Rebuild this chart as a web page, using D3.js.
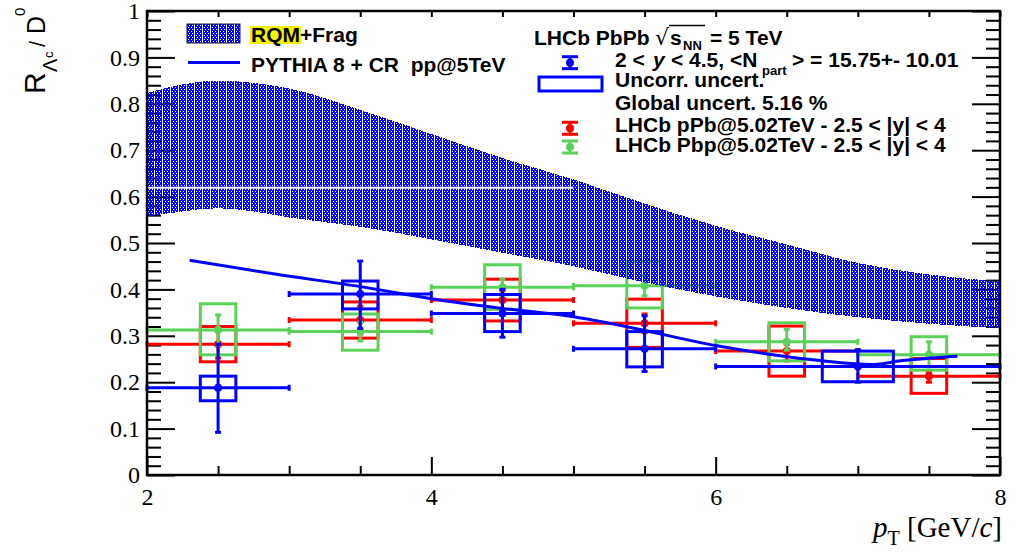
<!DOCTYPE html>
<html><head><meta charset="utf-8">
<script src="https://cdn.jsdelivr.net/npm/d3@7"></script>
<style>
body{margin:0;background:#fff;}
svg text{white-space:pre;}
</style></head>
<body><svg id="c" width="1025" height="553"></svg>
<script>
// ---------- data ----------
const xMajorTicks = [2, 4, 6, 8];
const yMajorTicks = [0, 0.1, 0.2, 0.3, 0.4, 0.5, 0.6, 0.7, 0.8, 0.9, 1];

// RQM + Frag band
const bandX    = [2.0, 2.25, 2.5, 2.75, 3.0, 3.5, 4.0, 4.5, 5.0, 5.5, 6.0, 6.5, 7.0, 7.5, 8.0];
const bandLow  = [0.557, 0.568, 0.575, 0.568, 0.555, 0.535, 0.508, 0.479, 0.450, 0.415, 0.385, 0.360, 0.340, 0.326, 0.316];
const bandHigh = [0.823, 0.842, 0.850, 0.845, 0.833, 0.787, 0.735, 0.683, 0.637, 0.585, 0.537, 0.497, 0.457, 0.432, 0.417];
const bandGapY = 0.619, bandGapX = [2.0, 5.0];

// PYTHIA 8 + CR pp@5TeV
const pythiaX = [2.3, 2.9, 3.5, 4.0, 4.5, 5.0, 5.4, 6.0, 6.4, 6.75, 7.1, 7.3, 7.7];
const pythiaY = [0.463, 0.433, 0.406, 0.380, 0.359, 0.341, 0.318, 0.279, 0.259, 0.246, 0.238, 0.246, 0.256];

// LHCb PbPb
const pbpbX      = [2.5, 3.5, 4.5, 5.5, 7.0];
const pbpbXlo    = [2, 3, 4, 5, 6];
const pbpbXhi    = [3, 4, 5, 6, 8];
const pbpbY      = [0.188, 0.390, 0.348, 0.272, 0.234];
const pbpbStatLo = [0.092, 0.316, 0.297, 0.223, 0.200];
const pbpbStatHi = [0.282, 0.461, 0.400, 0.343, 0.270];
const pbpbSysLo  = [0.160, 0.358, 0.309, 0.233, 0.201];
const pbpbSysHi  = [0.213, 0.418, 0.389, 0.309, 0.267];

// LHCb pPb
const ppbX      = [2.5, 3.5, 4.5, 5.5, 6.5, 7.5];
const ppbXlo    = [2, 3, 4, 5, 6, 7];
const ppbXhi    = [3, 4, 5, 6, 7, 8];
const ppbY      = [0.282, 0.334, 0.377, 0.327, 0.267, 0.213];
const ppbStatLo = [0.252, 0.304, 0.357, 0.307, 0.246, 0.200];
const ppbStatHi = [0.312, 0.364, 0.397, 0.347, 0.282, 0.222];
const ppbSysLo  = [0.244, 0.295, 0.332, 0.275, 0.213, 0.176];
const ppbSysHi  = [0.320, 0.373, 0.422, 0.379, 0.321, 0.251];

// LHCb Pbp
const pbpX      = [2.5, 3.5, 4.5, 5.5, 6.5, 7.5];
const pbpXlo    = [2, 3, 4, 5, 6, 7];
const pbpXhi    = [3, 4, 5, 6, 7, 8];
const pbpY      = [0.3125, 0.309, 0.4045, 0.408, 0.287, 0.259];
const pbpStatLo = [0.280, 0.289, 0.387, 0.386, 0.269, 0.233];
const pbpStatHi = [0.345, 0.329, 0.422, 0.430, 0.314, 0.287];
const pbpSysLo  = [0.259, 0.269, 0.357, 0.360, 0.246, 0.226];
const pbpSysHi  = [0.369, 0.347, 0.453, 0.460, 0.328, 0.298];

// ---------- drawing ----------
const BLUE = "#0000ff", RED = "#ff0000", GREEN = "#5ad25a";
const svg = d3.select("#c");
const L = 147, R = 1000, T = 11, B = 475;
const x = d3.scaleLinear().domain([2, 8]).range([L, R]);
const y = d3.scaleLinear().domain([0, 1]).range([B, T]);
const SANS = "'Liberation Sans', Arial, Helvetica, sans-serif";
const SERIF = "'Liberation Serif', 'Times New Roman', serif";

// pattern
const defs = svg.append("defs");
const pat = defs.append("pattern").attr("id", "hatch").attr("patternUnits", "userSpaceOnUse")
  .attr("x", L).attr("y", 0).attr("width", 8).attr("height", 4);
const bitmap = ["BBBBBBB.", "BB.BB.B.", "BBBBBBB.", "B.BB.BB."];
bitmap.forEach((row, j) => row.split("").forEach((c, i) => {
  if (c === "B") pat.append("rect").attr("x", i).attr("y", j).attr("width", 1).attr("height", 1).attr("fill", BLUE);
}));

// axes
const minorX = d3.range(2, 8.001, 0.5).filter(v => Math.abs(v - Math.round(v / 2) * 2) > 1e-6);
const minorY = d3.range(0, 1.0001, 0.02).map(v => +v.toFixed(2)).filter(v => Math.abs(v * 10 - Math.round(v * 10)) > 1e-6);
const allX = d3.range(2, 8.001, 0.5);

function styleAxis(g) {
  g.select(".domain").remove();
  g.selectAll(".tick line").attr("stroke", "#000").attr("stroke-width", 2);
}
const axG = svg.append("g");
axG.append("g").attr("transform", `translate(0,${B})`)
  .call(d3.axisBottom(x).tickValues(xMajorTicks).tickSize(-18).tickPadding(13).tickFormat(d3.format("d")))
  .call(styleAxis).selectAll("text").attr("font-family", SERIF).attr("font-size", 24).attr("fill", "#000");
axG.append("g").attr("transform", `translate(0,${B})`)
  .call(d3.axisBottom(x).tickValues(minorX).tickSize(-9).tickFormat("")).call(styleAxis);
axG.append("g").attr("transform", `translate(0,${T})`)
  .call(d3.axisTop(x).tickValues(allX).tickSize(-6).tickFormat("")).call(styleAxis);
axG.append("g").attr("transform", `translate(${L},0)`)
  .call(d3.axisLeft(y).tickValues(yMajorTicks).tickSize(-28).tickPadding(7).tickFormat(d => d3.format("")(d)))
  .call(styleAxis).selectAll("text").attr("font-family", SERIF).attr("font-size", 24).attr("fill", "#000");
axG.append("g").attr("transform", `translate(${L},0)`)
  .call(d3.axisLeft(y).tickValues(minorY).tickSize(-14).tickFormat("")).call(styleAxis);
axG.append("g").attr("transform", `translate(${R},0)`)
  .call(d3.axisRight(y).tickValues(yMajorTicks).tickSize(-28).tickFormat("")).call(styleAxis);
axG.append("g").attr("transform", `translate(${R},0)`)
  .call(d3.axisRight(y).tickValues(minorY).tickSize(-14).tickFormat("")).call(styleAxis);

// data series
function series(color, X, Xlo, Xhi, Y, sLo, sHi, sysLo, sysHi) {
  const g = svg.append("g").attr("stroke", color).attr("fill", "none").attr("stroke-width", 3);
  X.forEach((xv, i) => {
    const hw = 0.125 * (Xhi[i] - Xlo[i]);
    g.append("rect").attr("x", x(xv - hw)).attr("y", y(sysHi[i]))
      .attr("width", x(xv + hw) - x(xv - hw)).attr("height", y(sysLo[i]) - y(sysHi[i]));
    g.append("line").attr("x1", x(Xlo[i])).attr("x2", x(Xhi[i])).attr("y1", y(Y[i])).attr("y2", y(Y[i]));
    g.append("line").attr("x1", x(Xlo[i])).attr("x2", x(Xlo[i])).attr("y1", y(Y[i]) - 3).attr("y2", y(Y[i]) + 3);
    g.append("line").attr("x1", x(Xhi[i])).attr("x2", x(Xhi[i])).attr("y1", y(Y[i]) - 3).attr("y2", y(Y[i]) + 3);
    g.append("line").attr("x1", x(xv)).attr("x2", x(xv)).attr("y1", y(sLo[i])).attr("y2", y(sHi[i]));
    g.append("line").attr("x1", x(xv) - 3).attr("x2", x(xv) + 3).attr("y1", y(sLo[i])).attr("y2", y(sLo[i]));
    g.append("line").attr("x1", x(xv) - 3).attr("x2", x(xv) + 3).attr("y1", y(sHi[i])).attr("y2", y(sHi[i]));
    g.append("circle").attr("cx", x(xv)).attr("cy", y(Y[i])).attr("r", 4).attr("fill", color).attr("stroke", "none");
  });
}
series(RED, ppbX, ppbXlo, ppbXhi, ppbY, ppbStatLo, ppbStatHi, ppbSysLo, ppbSysHi);
series(GREEN, pbpX, pbpXlo, pbpXhi, pbpY, pbpStatLo, pbpStatHi, pbpSysLo, pbpSysHi);
series(BLUE, pbpbX, pbpbXlo, pbpbXhi, pbpbY, pbpbStatLo, pbpbStatHi, pbpbSysLo, pbpbSysHi);

// band
const bandData = bandX.map((v, i) => ({x: v, lo: bandLow[i], hi: bandHigh[i]}));
svg.append("path").datum(bandData)
  .attr("d", d3.area().x(d => x(d.x)).y0(d => y(d.lo)).y1(d => y(d.hi)).curve(d3.curveMonotoneX))
  .attr("fill", "url(#hatch)").attr("shape-rendering", "crispEdges");
svg.append("line").attr("x1", x(bandGapX[0])).attr("x2", x(bandGapX[1]))
  .attr("y1", y(bandGapY)).attr("y2", y(bandGapY)).attr("stroke", "#fff").attr("stroke-width", 2);

// PYTHIA
svg.append("path").datum(pythiaX.map((v, i) => [v, pythiaY[i]]))
  .attr("d", d3.line().x(d => x(d[0])).y(d => y(d[1])).curve(d3.curveMonotoneX))
  .attr("fill", "none").attr("stroke", BLUE).attr("stroke-width", 3);

// frame
svg.append("rect").attr("x", L).attr("y", T).attr("width", R - L).attr("height", B - T)
  .attr("fill", "none").attr("stroke", "#000").attr("stroke-width", 2.5);

// axis titles
const xt = svg.append("text").attr("x", R + 2).attr("y", 537).attr("text-anchor", "end")
  .attr("font-family", SERIF).attr("font-size", 29).attr("fill", "#000");
xt.append("tspan").attr("font-style", "italic").text("p");
xt.append("tspan").attr("font-size", 20).attr("dy", 8).text("T");
xt.append("tspan").attr("dy", -8).text(" [GeV/");
xt.append("tspan").attr("font-style", "italic").text("c");
xt.append("tspan").text("]");

const yt = svg.append("g").attr("transform", "translate(45,94) rotate(-90)")
  .attr("font-family", SANS).attr("fill", "#000");
yt.append("text").attr("x", 0).attr("y", 0).attr("font-size", 30).text("R");
yt.append("text").attr("x", 22).attr("y", 12).attr("font-size", 20).text("Λ");
yt.append("text").attr("x", 36).attr("y", 8).attr("font-size", 13).text("c");
yt.append("text").attr("x", 47).attr("y", 0).attr("font-size", 22).text("/");
yt.append("text").attr("x", 60).attr("y", 0).attr("font-size", 25).text("D");
yt.append("text").attr("x", 78).attr("y", -20).attr("font-size", 15).text("0");

// legend left
const lg = svg.append("g").attr("font-family", SANS).attr("font-weight", "bold").attr("font-size", 21).attr("fill", "#000");
lg.append("rect").attr("x", 187).attr("y", 24).attr("width", 53).attr("height", 19)
  .attr("fill", "url(#hatch)").attr("stroke", "#223").attr("stroke-width", 1);
lg.append("rect").attr("x", 250).attr("y", 26).attr("width", 51).attr("height", 18).attr("fill", "#f5f200");
lg.append("text").attr("x", 251).attr("y", 42).text("RQM+Frag");
lg.append("line").attr("x1", 188).attr("x2", 240).attr("y1", 62.5).attr("y2", 62.5).attr("stroke", BLUE).attr("stroke-width", 3);
lg.append("text").attr("x", 251).attr("y", 72).text("PYTHIA 8 + CR  pp@5TeV");

// legend right
lg.append("text").attr("x", 534).attr("y", 45).text("LHCb PbPb");
lg.append("text").attr("x", 655).attr("y", 45).attr("font-weight", "normal").attr("font-family", "'DejaVu Sans', sans-serif").attr("font-size", 22).text("√");
lg.append("line").attr("x1", 669).attr("x2", 705).attr("y1", 25.5).attr("y2", 25.5).attr("stroke", "#000").attr("stroke-width", 1.5);
lg.append("text").attr("x", 670).attr("y", 45).text("s");
lg.append("text").attr("x", 683).attr("y", 50).attr("font-size", 13).text("NN");
lg.append("text").attr("x", 710).attr("y", 45).text("= 5 TeV");
lg.append("text").attr("x", 615).attr("y", 66.7).text("2 <");
lg.append("text").attr("x", 653).attr("y", 66.7).attr("font-style", "italic").text("y");
lg.append("text").attr("x", 671).attr("y", 66.7).text("< 4.5, <N");
lg.append("text").attr("x", 762).attr("y", 75).attr("font-size", 13).text("part");
lg.append("text").attr("x", 792).attr("y", 66.7).text("> = 15.75+- 10.01");
lg.append("text").attr("x", 615).attr("y", 87).text("Uncorr. uncert.");
lg.append("text").attr("x", 615).attr("y", 109.5).text("Global uncert. 5.16 %");
lg.append("text").attr("x", 615).attr("y", 132).text("LHCb pPb@5.02TeV - 2.5 < |y| < 4");
lg.append("text").attr("x", 615).attr("y", 152).text("LHCb Pbp@5.02TeV - 2.5 < |y| < 4");
lg.append("rect").attr("x", 539).attr("y", 77).attr("width", 63).attr("height", 14)
  .attr("fill", "none").attr("stroke", BLUE).attr("stroke-width", 3);
function legMarker(cy, color) {
  const g = lg.append("g").attr("stroke", color).attr("stroke-width", 3);
  g.append("line").attr("x1", 570).attr("x2", 570).attr("y1", cy - 6).attr("y2", cy + 6);
  g.append("line").attr("x1", 562).attr("x2", 578).attr("y1", cy - 6).attr("y2", cy - 6);
  g.append("line").attr("x1", 562).attr("x2", 578).attr("y1", cy + 6).attr("y2", cy + 6);
  g.append("circle").attr("cx", 570).attr("cy", cy).attr("r", 4).attr("fill", color).attr("stroke", "none");
}
legMarker(62.7, BLUE);
legMarker(128.3, RED);
legMarker(147, GREEN);
</script></body></html>
